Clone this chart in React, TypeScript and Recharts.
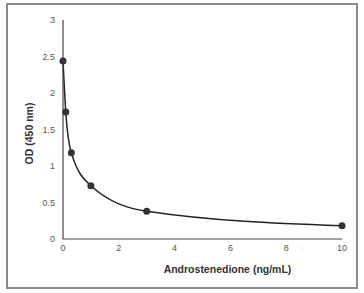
import React from "react";
import { LineChart, Line, XAxis, YAxis, Label } from "recharts";

const concentrations = [0, 0.1, 0.3, 1, 3, 10];
const odValues = [2.44, 1.74, 1.18, 0.73, 0.38, 0.18];
const xTicks = [0, 2, 4, 6, 8, 10];
const yTicks = [0, 0.5, 1, 1.5, 2, 2.5, 3];

const data = concentrations.map((c, i) => ({ x: c, y: odValues[i] }));

const font = "'Liberation Sans', Arial, sans-serif";

export default function App() {
  return (
    <div style={{ position: "fixed", left: 0, top: 0, width: 364, height: 293, background: "#fff" }}>
      <div
        style={{
          position: "absolute",
          left: 6,
          top: 3,
          width: 348,
          height: 282,
          border: "2px solid #8a8a8a",
        }}
      />
      <div style={{ position: "absolute", left: 0, top: 0 }}>
        <LineChart width={364} height={293} data={data} margin={{ top: 20, right: 22, bottom: 18, left: 0 }}>
          <XAxis
            dataKey="x"
            type="number"
            domain={[0, 10]}
            ticks={xTicks}
            tickLine={false}
            tickSize={4}
            height={36}
            axisLine={{ stroke: "#444", strokeWidth: 1.2 }}
            tick={{ fontSize: 9, fill: "#555", fontFamily: font }}
          >
            <Label
              value="Androstenedione (ng/mL)"
              position="insideBottom"
              offset={2}
              dx={25}
              style={{ fontSize: 10.5, fontWeight: "bold", fill: "#333", fontFamily: font }}
            />
          </XAxis>
          <YAxis
            dataKey="y"
            type="number"
            domain={[0, 3]}
            ticks={yTicks}
            width={63}
            tickLine={false}
            axisLine={{ stroke: "#444", strokeWidth: 1.2 }}
            tick={{ fontSize: 9, fill: "#555", fontFamily: font }}
            label={{
              content: (props: any) => {
                const vb = props.viewBox || {};
                const cx = 30;
                const cy = (vb.y ?? 20) + (vb.height ?? 219) / 2 + 4;
                return (
                  <text
                    x={cx}
                    y={cy}
                    transform={`rotate(-90 ${cx} ${cy})`}
                    textAnchor="middle"
                    dominantBaseline="middle"
                    style={{ fontSize: 10.5, fontWeight: "bold", fill: "#333", fontFamily: font }}
                  >
                    OD (450 nm)
                  </text>
                );
              },
            }}
          />
          <Line
            type="monotone"
            dataKey="y"
            stroke="#222"
            strokeWidth={1.5}
            dot={{ r: 3.5, fill: "#333", stroke: "#333", strokeWidth: 0 }}
            isAnimationActive={false}
          />
        </LineChart>
      </div>
    </div>
  );
}
